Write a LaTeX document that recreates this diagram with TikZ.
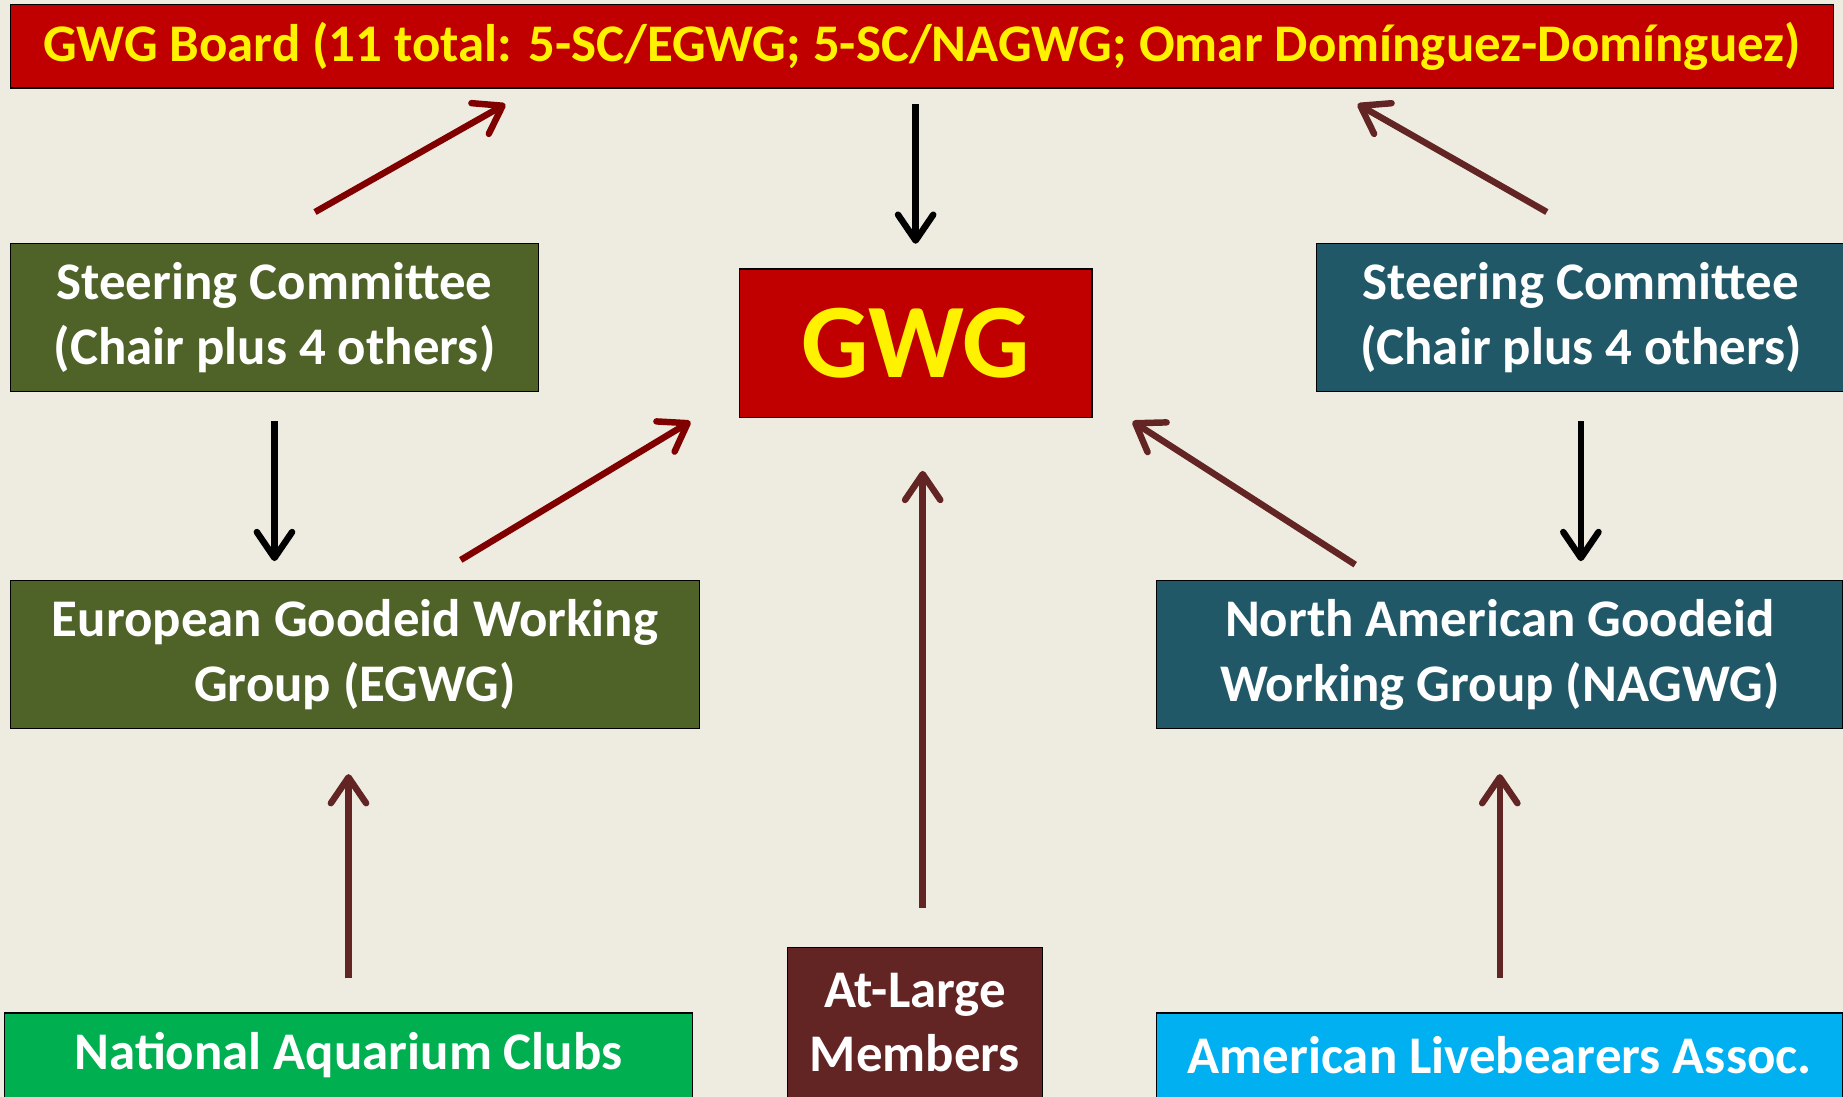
\documentclass[tikz,border=0pt]{standalone}
\usepackage{fontspec}
\setmainfont{Carlito}
\usepackage{xcolor}
\usepackage{tikz}
\usetikzlibrary{arrows.meta}
\usetikzlibrary{calc}
\usetikzlibrary{positioning}

\definecolor{paper}{HTML}{EEECE1}
\definecolor{boardred}{HTML}{C00000}
\definecolor{olive}{HTML}{4F6228}
\definecolor{teal}{HTML}{215868}
\definecolor{brown}{HTML}{632523}
\definecolor{darkred}{HTML}{800000}
\definecolor{clubgreen}{HTML}{00B050}
\definecolor{alablue}{HTML}{00B0F0}

\begin{document}
\begin{tikzpicture}[
    x=1pt, y=-1pt,
    box/.style={draw=black, line width=1.2pt, inner sep=0pt, align=center,
      text=white, font=\fontsize{45}{55}\selectfont\bfseries},
    link/.style={line width=5.5pt,
      -{Straight Barb[length=22pt,width=30pt,round]}},
    blk/.style={link, black},
    red/.style={link, darkred},
    brn/.style={link, brown}]

    \fill [paper] (0, 0) rectangle (1568, 933);
    \useasboundingbox (0, 0) rectangle (1568, 933);

    \node [box, fill=boardred, text=yellow, minimum width=1551, minimum height=71]
    (board) at (784.5, 39.5)
    {GWG Board (11 total: 5-SC/EGWG; 5-SC/NAGWG; Omar Domínguez-Domínguez)};

    \node [box, fill=boardred, text=yellow, minimum width=300, minimum height=126,
      font=\fontsize{90}{100}\selectfont\bfseries] (gwg) at (779, 292) {GWG};

    \node [box, fill=olive, minimum width=449, minimum height=126] (scl)
    at (233.5, 270) {Steering Committee\\(Chair plus 4 others)};
    \node [box, fill=teal, minimum width=450, minimum height=126] (scr)
    at (1345, 270) {Steering Committee\\(Chair plus 4 others)};

    \node [box, fill=olive, minimum width=586, minimum height=126] (egwg)
    at (302, 557) {European Goodeid Working\\Group (EGWG)};
    \node [box, fill=teal, minimum width=584, minimum height=126] (nagwg)
    at (1276, 557) {North American Goodeid\\Working Group (NAGWG)};

    \node [box, fill=clubgreen, minimum width=585, minimum height=72] (nac)
    at (296.5, 898) {National Aquarium Clubs};
    \node [box, fill=brown, minimum width=217, minimum height=128] (alm)
    at (778.5, 870) {At-Large\\Members};
    \node [box, fill=alablue, minimum width=584, minimum height=72] (ala)
    at (1276, 898) {American Livebearers Assoc.};

    \draw [blk] ([yshift=-13pt]gwg.north |- board.south) -- ([yshift=21pt]gwg.north);
    \draw [red] ([xshift=34.5pt, yshift=26pt]scl.north)
    -- ([xshift=-354.5pt, yshift=-13pt]board.south);
    \draw [brn] ([xshift=-29pt, yshift=26pt]scr.north)
    -- ([xshift=370.5pt, yshift=-13pt]board.south);

    \draw [blk] ([yshift=-25pt]scl.south) -- ([yshift=16pt]scl.south |- egwg.north);
    \draw [blk] ([yshift=-25pt]scr.south) -- ([yshift=16pt]scr.south |- nagwg.north);

    \draw [red] ([xshift=90pt, yshift=17pt]egwg.north)
    -- ([xshift=-41pt, yshift=-3pt]gwg.south west);
    \draw [brn] ([xshift=-123pt, yshift=13pt]nagwg.north)
    -- ([xshift=34pt, yshift=-3pt]gwg.south east);
    \draw [brn] ([xshift=6.5pt, yshift=33pt]alm.north)
    -- ([xshift=6pt, yshift=-45pt]gwg.south);

    \draw [brn] ([yshift=29pt]nac.north) -- ([yshift=-38pt]nac.north |- egwg.south);
    \draw [brn] ([yshift=29pt]ala.north) -- ([yshift=-38pt]nagwg.south);

  \end{tikzpicture}
\end{document}
